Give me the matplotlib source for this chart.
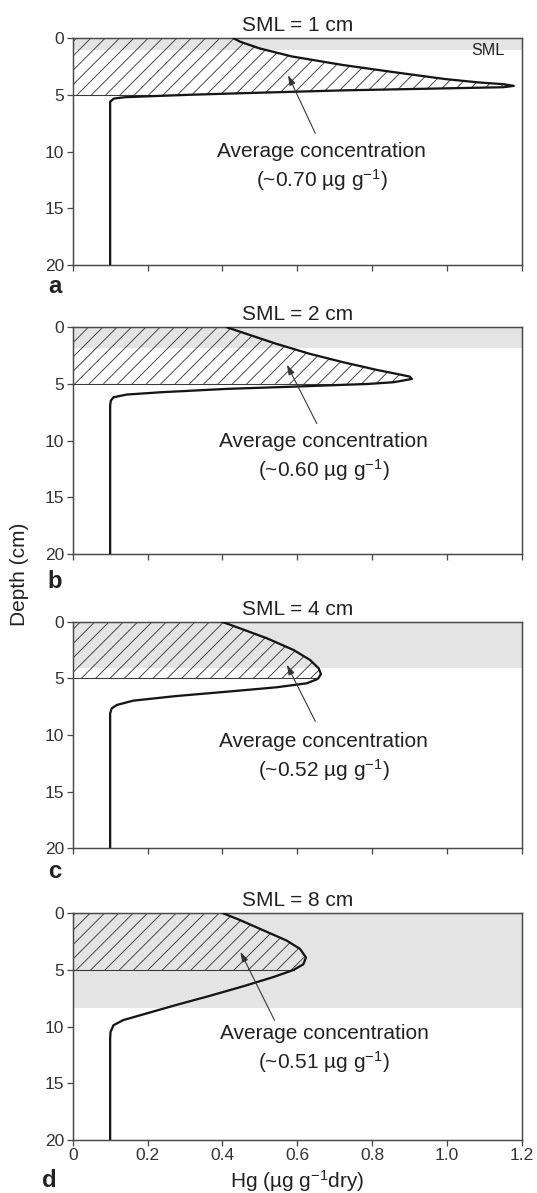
import numpy as np
import matplotlib
matplotlib.use("Agg")
import matplotlib.pyplot as plt

plt.rcParams["font.family"] = ["Liberation Sans", "DejaVu Sans"]
plt.rcParams["mathtext.fontset"] = "custom"
plt.rcParams["mathtext.rm"] = "Liberation Sans"
plt.rcParams["mathtext.it"] = "Liberation Sans:italic"
plt.rcParams["hatch.linewidth"] = 0.75

# panel data: depth (cm) and Hg concentration (ug/g dry)
panel_letters = ["a", "b", "c", "d"]
sml_titles = ["SML = 1 cm", "SML = 2 cm", "SML = 4 cm", "SML = 8 cm"]
sml_band = [1.0, 1.8, 4.1, 8.4]
avg_labels = ["0.70", "0.60", "0.52", "0.51"]
hatch_depth = 5.0

a_depth = [0, 0.3, 0.9, 1.6, 2.35, 3.0, 3.6, 3.9, 4.05, 4.2, 4.32, 4.6, 4.85, 5.0, 5.2, 5.32, 5.6, 20]
a_conc = [0.43, 0.447, 0.50, 0.585, 0.72, 0.86, 0.995, 1.085, 1.15, 1.178, 1.15, 0.72, 0.45, 0.30, 0.14, 0.11, 0.10, 0.10]

b_depth = [0, 0.59, 1.47, 2.35, 3.09, 3.76, 4.18, 4.35, 4.56, 4.85, 5.0, 5.24, 5.44, 5.74, 5.94, 6.18, 6.47, 6.9, 20]
b_conc = [0.412, 0.465, 0.545, 0.634, 0.723, 0.812, 0.875, 0.90, 0.906, 0.857, 0.79, 0.59, 0.41, 0.233, 0.144, 0.109, 0.102, 0.10, 0.10]

c_depth = [0, 0.59, 1.47, 2.5, 3.38, 4.12, 4.62, 5.0, 5.09, 5.44, 5.79, 6.18, 6.56, 6.97, 7.35, 7.65, 8.1, 20]
c_conc = [0.398, 0.447, 0.519, 0.59, 0.634, 0.657, 0.663, 0.656, 0.652, 0.625, 0.545, 0.412, 0.278, 0.162, 0.118, 0.104, 0.10, 0.10]

d_depth = [0, 0.6, 1.5, 2.4, 3.14, 3.9, 4.5, 5.0, 5.63, 6.44, 7.28, 8.08, 8.92, 9.43, 9.88, 10.48, 11.08, 20]
d_conc = [0.402, 0.447, 0.509, 0.571, 0.607, 0.623, 0.616, 0.59, 0.536, 0.456, 0.367, 0.278, 0.189, 0.135, 0.109, 0.101, 0.10, 0.10]

profiles = [(a_depth, a_conc), (b_depth, b_conc), (c_depth, c_conc), (d_depth, d_conc)]

# annotation: arrow tip, arrow tail, text centre (x, depth line 1, depth line 2)
arrow_tip = [(0.575, 3.25), (0.572, 3.3), (0.572, 3.8), (0.448, 3.4)]
arrow_tail = [(0.648, 8.4), (0.652, 8.5), (0.648, 8.8), (0.539, 9.45)]
text_pos = [(0.665, 10.0, 12.5), (0.67, 10.1, 12.6), (0.67, 10.6, 13.1), (0.672, 10.6, 13.1)]

xticks = [0, 0.2, 0.4, 0.6, 0.8, 1.0, 1.2]
xtick_labels = ["0", "0.2", "0.4", "0.6", "0.8", "1.0", "1.2"]
yticks = [0, 5, 10, 15, 20]

W, H, DPI = 537, 1193, 86
fig = plt.figure(figsize=(W / DPI, H / DPI), dpi=DPI)

ax_tops = [38.3, 327.3, 621.7, 913.3]
ax_h = 226.5
left_px, width_px = 72.7, 449.3
letter_base = [293, 588, 878, 1187]
letter_x = [55, 55, 55, 49]

spine_col = "#4a4a4a"
text_col = "#222222"

for i, (dep, conc) in enumerate(profiles):
    top = ax_tops[i]
    ax = fig.add_axes([left_px / W, 1 - (top + ax_h) / H, width_px / W, ax_h / H])
    dep = np.array(dep)
    conc = np.array(conc)

    ax.axhspan(0, sml_band[i], color="#e4e4e4", lw=0, zorder=0)
    ax.fill_betweenx(dep, 0, conc, where=dep <= hatch_depth, facecolor="none",
                     edgecolor="#3a3a3a", hatch="//", linewidth=0, zorder=1)
    x5 = conc[dep == hatch_depth][0]
    ax.plot([0, x5], [hatch_depth, hatch_depth], color="#3a3a3a", lw=0.9, zorder=2)
    ax.plot(conc, dep, color="#151515", lw=1.9, zorder=3)

    tx, ty1, ty2 = text_pos[i]
    ax.text(tx, ty1, "Average concentration", ha="center", va="center",
            fontsize=17.5, color=text_col)
    ax.text(tx, ty2, "(~" + avg_labels[i] + " µg g$^{-1}$)", ha="center", va="center",
            fontsize=17.5, color=text_col)
    ax.annotate("", xy=arrow_tip[i], xytext=arrow_tail[i],
                arrowprops=dict(arrowstyle="-|>,head_length=0.7,head_width=0.22",
                                color="#333333", lw=0.9, shrinkA=0, shrinkB=0),
                zorder=4)

    if i == 0:
        ax.text(1.11, 1.1, "SML", ha="center", va="center", fontsize=13.5, color=text_col)

    ax.set_xlim(0, 1.2)
    ax.set_ylim(20, 0)
    ax.set_yticks(yticks)
    ax.set_xticks(xticks)
    if i == 3:
        ax.set_xticklabels(xtick_labels)
        ax.set_xlabel("Hg (µg g$^{-1}$dry)", fontsize=17.5, color=text_col, labelpad=4)
    else:
        ax.set_xticklabels([])
    ax.tick_params(direction="out", length=5, width=1.1, color=spine_col,
                   labelsize=14.5, labelcolor="#333333", pad=2)
    for s in ax.spines.values():
        s.set_color(spine_col)
        s.set_linewidth(1.25)
    ax.set_title(sml_titles[i], fontsize=17.5, color=text_col, pad=6)

    fig.text(letter_x[i] / W, 1 - letter_base[i] / H, panel_letters[i], fontsize=20,
             fontweight="bold", ha="center", va="baseline", color=text_col)

fig.text(20 / W, 1 - 574 / H, "Depth (cm)", rotation=90, ha="center", va="center",
         fontsize=17.5, color=text_col)

fig.savefig("out.png", dpi=DPI)
